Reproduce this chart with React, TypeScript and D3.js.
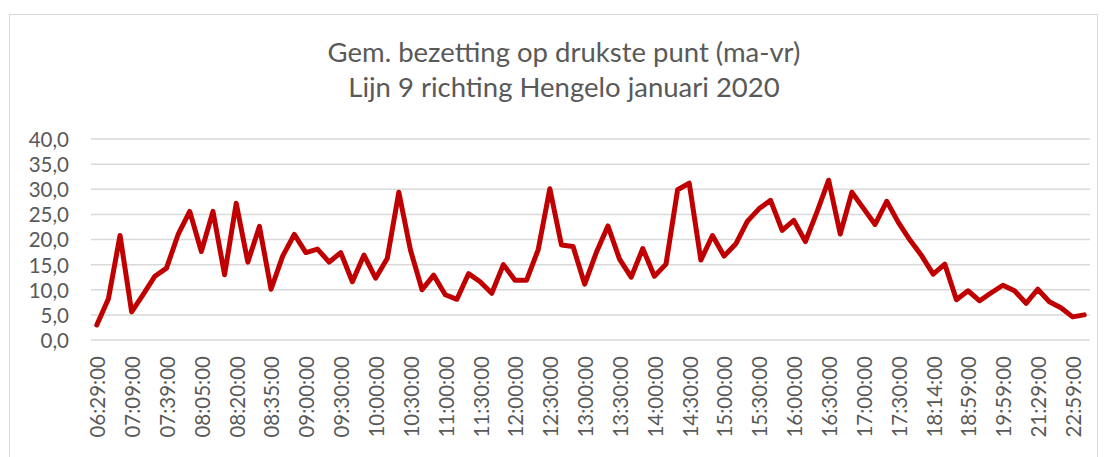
import React, { useEffect, useRef } from "react"
import * as d3 from "d3"

// departure times (every 3rd one is shown on the axis)
const times: string[] = [
  "06:29:00", "06:44:00", "06:59:00", "07:09:00", "07:19:00", "07:29:00",
  "07:39:00", "07:49:00", "07:57:00", "08:05:00", "08:10:00", "08:15:00",
  "08:20:00", "08:25:00", "08:30:00", "08:35:00", "08:45:00", "08:50:00",
  "09:00:00", "09:10:00", "09:20:00", "09:30:00", "09:40:00", "09:50:00",
  "10:00:00", "10:10:00", "10:20:00", "10:30:00", "10:40:00", "10:50:00",
  "11:00:00", "11:10:00", "11:20:00", "11:30:00", "11:40:00", "11:50:00",
  "12:00:00", "12:10:00", "12:20:00", "12:30:00", "12:40:00", "12:50:00",
  "13:00:00", "13:10:00", "13:20:00", "13:30:00", "13:40:00", "13:50:00",
  "14:00:00", "14:10:00", "14:20:00", "14:30:00", "14:40:00", "14:50:00",
  "15:00:00", "15:10:00", "15:20:00", "15:30:00", "15:40:00", "15:50:00",
  "16:00:00", "16:10:00", "16:20:00", "16:30:00", "16:40:00", "16:50:00",
  "17:00:00", "17:10:00", "17:20:00", "17:30:00", "17:45:00", "17:59:00",
  "18:14:00", "18:29:00", "18:44:00", "18:59:00", "19:19:00", "19:39:00",
  "19:59:00", "20:29:00", "20:59:00", "21:29:00", "21:59:00", "22:29:00",
  "22:59:00", "23:29:00",
]

// gemiddelde bezetting
const occupancy: number[] = [
  3.0, 8.2, 20.8, 5.6, 9.1, 12.7, 14.3, 21.0, 25.6, 17.6,
  25.6, 13.0, 27.2, 15.5, 22.6, 10.1, 16.7, 21.0, 17.4, 18.1,
  15.5, 17.4, 11.6, 16.9, 12.3, 16.2, 29.4, 17.9, 10.0, 12.9,
  9.0, 8.1, 13.2, 11.6, 9.3, 15.0, 11.9, 11.9, 18.0, 30.1,
  18.9, 18.6, 11.1, 17.4, 22.7, 16.1, 12.5, 18.2, 12.7, 15.1,
  29.9, 31.2, 15.9, 20.8, 16.7, 19.1, 23.6, 26.1, 27.8, 21.8,
  23.8, 19.6, 25.5, 31.8, 21.1, 29.4, 26.2, 23.0, 27.6, 23.4,
  19.9, 16.8, 13.1, 15.1, 8.0, 9.8, 7.8, 9.4, 10.9, 9.8,
  7.3, 10.1, 7.6, 6.4, 4.6, 5.0,
]

const yTicks: number[] = [0, 5, 10, 15, 20, 25, 30, 35, 40]

const titleLines: string[] = [
  "Gem. bezetting op drukste punt (ma-vr)",
  "Lijn 9 richting Hengelo januari 2020",
]

export default function App() {
  const svgRef = useRef<SVGSVGElement>(null)

  useEffect(() => {
    if (!svgRef.current) return
    d3.select(svgRef.current).selectAll("*").remove()

    const W = 1106
    const H = 457
    const plot = { left: 91, right: 1090, top: 139, bottom: 340 }
    const font = "Lato, 'Open Sans', sans-serif"
    const grey = "#595959"

    const svg = d3.select(svgRef.current).attr("width", W).attr("height", H)

    // chart area frame
    svg
      .append("rect")
      .attr("x", 9.5)
      .attr("y", 14.5)
      .attr("width", 1088)
      .attr("height", 470)
      .attr("fill", "#fff")
      .attr("stroke", "#d9d9d9")
      .attr("stroke-width", 1)

    const x = d3
      .scaleBand()
      .domain(times)
      .range([plot.left, plot.right])

    const y = d3
      .scaleLinear()
      .domain([0, 40])
      .range([plot.bottom, plot.top])

    // gridlines
    svg
      .append("g")
      .selectAll("line")
      .data(yTicks)
      .enter()
      .append("line")
      .attr("x1", plot.left)
      .attr("x2", plot.right)
      .attr("y1", d => y(d))
      .attr("y2", d => y(d))
      .attr("stroke", "#d9d9d9")
      .attr("stroke-width", 1.5)

    // y axis labels
    const yAxis = svg
      .append("g")
      .attr("transform", `translate(${plot.left - 22},0)`)
      .call(
        d3
          .axisLeft(y)
          .tickValues(yTicks)
          .tickSize(0)
          .tickPadding(0)
          .tickFormat(d => d3.format(".1f")(d as number).replace(".", ","))
      )
    yAxis.select(".domain").remove()
    yAxis
      .selectAll("text")
      .attr("fill", grey)
      .attr("font-family", font)
      .attr("font-size", "20.5px")
      .attr("dy", "0.36em")

    // x axis labels (every third category)
    const xAxis = svg
      .append("g")
      .attr("transform", `translate(0,${plot.bottom})`)
      .call(
        d3
          .axisBottom(x)
          .tickValues(times.filter((_, i) => i % 3 === 0))
          .tickSize(0)
      )
    xAxis.select(".domain").remove()
    xAxis
      .selectAll("text")
      .attr("fill", grey)
      .attr("font-family", font)
      .attr("font-size", "20.5px")
      .attr("text-anchor", "end")
      .attr("transform", "rotate(-90)")
      .attr("x", -16)
      .attr("y", 1)
      .attr("dy", "0.36em")

    // line
    const line = d3
      .line<number>()
      .x((_, i) => (x(times[i]) || 0) + x.bandwidth() / 2)
      .y(d => y(d))

    svg
      .append("path")
      .datum(occupancy)
      .attr("d", line)
      .attr("fill", "none")
      .attr("stroke", "#c00000")
      .attr("stroke-width", 5)
      .attr("stroke-linejoin", "round")
      .attr("stroke-linecap", "round")

    // title
    svg
      .append("g")
      .selectAll("text")
      .data(titleLines)
      .enter()
      .append("text")
      .attr("x", 564)
      .attr("y", (_, i) => 62 + i * 35)
      .attr("text-anchor", "middle")
      .attr("fill", grey)
      .attr("font-family", font)
      .attr("font-size", "27.5px")
      .text(d => d)
  }, [])

  return (
    <div style={{ position: "absolute", left: 0, top: 0 }}>
      <svg ref={svgRef} style={{ display: "block" }}></svg>
    </div>
  )
}
